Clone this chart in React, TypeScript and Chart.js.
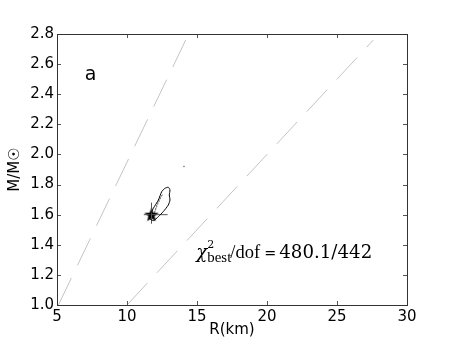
import React, { useEffect, useRef } from 'react';
import { Chart, registerables } from 'chart.js';

Chart.register(...registerables);

// ---- data ----
const xTickValues = [5, 10, 15, 20, 25, 30];
const yTickValues = [1.0, 1.2, 1.4, 1.6, 1.8, 2.0, 2.2, 2.4, 2.6, 2.8];

const leftLineR = [5.1, 14.4];
const leftLineM = [1.0, 2.8];
const rightLineR = [10.0, 27.6];
const rightLineM = [1.0, 2.76];

const contourR = [11.59, 11.88, 12.24, 12.48, 12.71, 12.95, 13.07, 13.02, 13.07, 12.95, 12.59, 12.24, 11.88, 11.59, 11.59];
const contourM = [1.587, 1.642, 1.697, 1.753, 1.775, 1.782, 1.764, 1.731, 1.697, 1.664, 1.62, 1.587, 1.56, 1.576, 1.587];

const innerR = [11.95, 12.15, 12.4, 12.55, 12.4, 12.15, 11.95];
const innerM = [1.61, 1.66, 1.71, 1.735, 1.72, 1.67, 1.61];

const bestR = [11.75];
const bestM = [1.6];
const errHR = [11.2, 12.9];
const errHM = [1.6, 1.6];
const errVR = [11.75, 11.75];
const errVM = [1.54, 1.68];

const strayR = [14.07];
const strayM = [1.92];

const panelLabel = 'a';
const panelPos = { r: 7.4, m: 2.53 };
const chiPos = { r: 14.95, m: 1.315 };
const chiMain = '\u03c7';
const chiSup = '2';
const chiSub = 'best';
const chiDof = '/dof';
const chiEq = '=';
const chiVal = '480.1/442';

const toPts = (xs: number[], ys: number[]) => xs.map((x, i) => ({ x, y: ys[i] }));

function makeStar(): HTMLCanvasElement {
  const c = document.createElement('canvas');
  c.width = 16;
  c.height = 16;
  const g = c.getContext('2d')!;
  g.beginPath();
  for (let i = 0; i < 10; i++) {
    const r = i % 2 === 0 ? 7.5 : 3.2;
    const a = -Math.PI / 2 + (i * Math.PI) / 5;
    const px = 8 + r * Math.cos(a);
    const py = 8.5 + r * Math.sin(a);
    if (i === 0) g.moveTo(px, py);
    else g.lineTo(px, py);
  }
  g.closePath();
  g.fillStyle = '#000';
  g.fill();
  return c;
}

function fitText(ctx: CanvasRenderingContext2D, text: string, x: number, y: number, targetW: number, base: number, style: string, family = 'DejaVu Serif') {
  ctx.font = `${style}${base}px "${family}"`;
  const w = ctx.measureText(text).width;
  const size = (base * targetW) / w;
  ctx.font = `${style}${size.toFixed(2)}px "${family}"`;
  ctx.fillText(text, x, y);
}

const framePlugin = {
  id: 'framePlugin',
  afterDraw(chart: any) {
    const { ctx, chartArea: a, scales } = chart;
    const xs = scales.x;
    const ys = scales.y;
    ctx.save();
    ctx.strokeStyle = '#555';
    ctx.lineWidth = 1;
    const tl = 4;
    ctx.beginPath();
    xTickValues.forEach((v) => {
      const px = Math.round(xs.getPixelForValue(v)) + 0.5;
      ctx.moveTo(px, a.bottom);
      ctx.lineTo(px, a.bottom - tl);
      ctx.moveTo(px, a.top);
      ctx.lineTo(px, a.top + tl);
    });
    yTickValues.forEach((v) => {
      const py = Math.round(ys.getPixelForValue(v)) + 0.5;
      ctx.moveTo(a.left, py);
      ctx.lineTo(a.left + tl, py);
      ctx.moveTo(a.right, py);
      ctx.lineTo(a.right - tl, py);
    });
    ctx.stroke();
    ctx.strokeStyle = '#333';
    ctx.strokeRect(Math.round(a.left) + 0.5, Math.round(a.top) + 0.5, Math.round(a.right - a.left), Math.round(a.bottom - a.top));

    // panel label
    ctx.fillStyle = '#000';
    ctx.font = '19px "DejaVu Sans"';
    ctx.textBaseline = 'middle';
    ctx.textAlign = 'center';
    ctx.fillText(panelLabel, xs.getPixelForValue(panelPos.r), ys.getPixelForValue(panelPos.m));

    // chi^2 text
    ctx.textAlign = 'left';
    ctx.textBaseline = 'alphabetic';
    const x = xs.getPixelForValue(chiPos.r);
    const y = ys.getPixelForValue(chiPos.m);
    fitText(ctx, chiMain, x, y, 11, 19, 'italic ');
    fitText(ctx, chiSup, x + 11, y - 10, 7, 13, '');
    fitText(ctx, chiSub, x + 11, y + 4, 24, 13, '', 'Liberation Serif');
    ctx.font = '18.5px "Liberation Serif"';
    ctx.fillText(chiDof, x + 34, y);
    fitText(ctx, chiEq, x + 68, y, 12, 18, '');
    fitText(ctx, chiVal, x + 83, y, 93, 18, '');
    ctx.restore();
  },
};

export default function App() {
  const ref = useRef<HTMLCanvasElement>(null);
  useEffect(() => {
    document.body.style.margin = '0';
    const star = makeStar();
    const gray = '#c4c4c4';
    const chart = new Chart(ref.current!, {
      type: 'scatter',
      data: {
        datasets: [
          { data: toPts(leftLineR, leftLineM), showLine: true, borderColor: gray, borderWidth: 1, borderDash: [30, 14], pointRadius: 0 },
          { data: toPts(rightLineR, rightLineM), showLine: true, borderColor: gray, borderWidth: 1, borderDash: [30, 14], pointRadius: 0 },
          { data: toPts(contourR, contourM), showLine: true, borderColor: '#000', borderWidth: 1, pointRadius: 0, tension: 0.2 },
          { data: toPts(innerR, innerM), showLine: true, borderColor: '#444', borderWidth: 0.8, borderDash: [1.5, 1.5], pointRadius: 0 },
          { data: toPts(errHR, errHM), showLine: true, borderColor: '#555', borderWidth: 1, pointRadius: 0 },
          { data: toPts(errVR, errVM), showLine: true, borderColor: '#555', borderWidth: 1, pointRadius: 0 },
          { data: toPts(bestR, bestM), pointStyle: star as any, pointRadius: 8 },
          { data: toPts(strayR, strayM), pointRadius: 0.8, backgroundColor: '#666', borderWidth: 0 },
        ],
      },
      options: {
        responsive: false,
        animation: false,
        events: [],
        layout: { padding: { left: 0, right: 45, top: 34, bottom: 0 } },
        plugins: { legend: { display: false }, tooltip: { enabled: false } },
        scales: {
          x: {
            type: 'linear',
            min: 5,
            max: 30,
            afterBuildTicks: (s: any) => { s.ticks = xTickValues.map((v) => ({ value: v })); },
            afterFit: (s: any) => { s.height = 34; },
            grid: { display: false, drawTicks: false },
            border: { display: false },
            ticks: { color: '#000', font: { size: 15, family: 'DejaVu Sans' }, padding: 3, maxRotation: 0, callback: (v: any) => String(v) },
            title: { display: true, text: 'R(km)', color: '#000', font: { size: 15, family: 'DejaVu Sans' }, padding: { top: 0, bottom: 0 } },
          },
          y: {
            type: 'linear',
            min: 1.0,
            max: 2.8,
            afterBuildTicks: (s: any) => { s.ticks = yTickValues.map((v) => ({ value: v })); },
            afterFit: (s: any) => { s.width = 57; },
            grid: { display: false, drawTicks: false },
            border: { display: false },
            ticks: { color: '#000', font: { size: 15, family: 'DejaVu Sans' }, padding: 3, callback: (v: any) => Number(v).toFixed(1) },
            title: { display: true, text: 'M/M\u2609', color: '#000', font: { size: 15, family: 'DejaVu Sans' }, padding: { top: 6, bottom: 0 } },
          },
        },
      },
      plugins: [framePlugin],
    });
    return () => chart.destroy();
  }, []);
  return (
    <div style={{ width: 452, height: 339, background: '#fff' }}>
      <canvas ref={ref} width={452} height={339} />
    </div>
  );
}
